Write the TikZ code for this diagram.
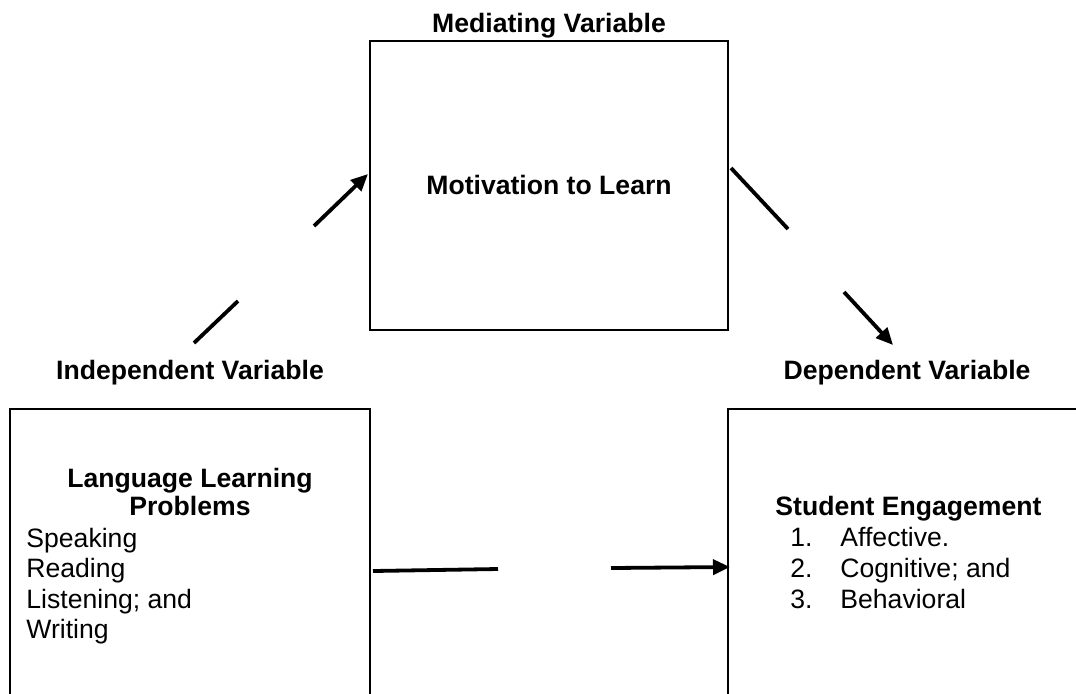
\documentclass[tikz,border=0pt]{standalone}
\usepackage{fontspec}
\setmainfont{Liberation Sans}
\usetikzlibrary{arrows.meta}
\begin{document}
\begin{tikzpicture}[x=0.5pt,y=-0.5pt,
  box/.style={draw,line width=1pt,inner sep=0pt,outer sep=0pt,anchor=north west},
  lbl/.style={font=\fontsize{13.3}{15.25}\selectfont\bfseries,anchor=base,inner sep=0pt},
  txt/.style={font=\fontsize{13.3}{15.25}\selectfont,anchor=base west,inner sep=0pt},
  conn/.style={line width=1.9pt},
  arr/.style={conn,-{Triangle[length=8.5pt,width=7.5pt]}}]
\useasboundingbox (0,0) rectangle (1076,693);
\begin{scope}
\clip (0,0) rectangle (1076,693);
\node[box,minimum width=179pt,minimum height=144.5pt] (med) at (370,41) {};
\node[box,minimum width=180pt,minimum height=200pt] (ind) at (10,409) {};
\node[box,minimum width=196pt,minimum height=200pt] (dep) at (728,409) {};
\end{scope}
% headings
\node[lbl] (medlbl) at (549,32) {Mediating Variable};
\node[lbl] (indlbl) at (190,379) {Independent Variable};
\node[lbl] (deplbl) at (907,379) {Dependent Variable};
% top box
\node[lbl] (mot) at (549,194) {Motivation to Learn};
% left box
\node[lbl] (llp1) at (190,487) {Language Learning};
\node[lbl] (llp2) at (190,515) {Problems};
\node[txt] (sp) at (26,547) {Speaking};
\node[txt] (rd) at (26,577) {Reading};
\node[txt] (ls) at (26,608) {Listening; and};
\node[txt] (wr) at (26,638) {Writing};
% right box
\node[lbl,anchor=base west] (se) at (775,515) {Student Engagement};
\node[txt] (n1) at (790,546) {1.};
\node[txt] (n2) at (790,577) {2.};
\node[txt] (n3) at (790,608) {3.};
\node[txt] (i1) at (840,546) {Affective.};
\node[txt] (i2) at (840,577) {Cognitive; and};
\node[txt] (i3) at (840,608) {Behavioral};
% connector pieces
\coordinate (a1) at (194,343);
\coordinate (a2) at (238,301);
\coordinate (a3) at (314,226);
\coordinate (a4) at (368,174);
\coordinate (b1) at (731,168);
\coordinate (b2) at (788,229);
\coordinate (b3) at (844,292);
\coordinate (b4) at (893,345);
\coordinate (c1) at (373,571);
\coordinate (c2) at (498,569);
\coordinate (c3) at (611,568);
\coordinate (c4) at (730,567);
\draw[conn] (a1) -- (a2);
\draw[arr] (a3) -- (a4);
\draw[conn] (b1) -- (b2);
\draw[arr] (b3) -- (b4);
\draw[conn] (c1) -- (c2);
\draw[arr] (c3) -- (c4);
\end{tikzpicture}
\end{document}
